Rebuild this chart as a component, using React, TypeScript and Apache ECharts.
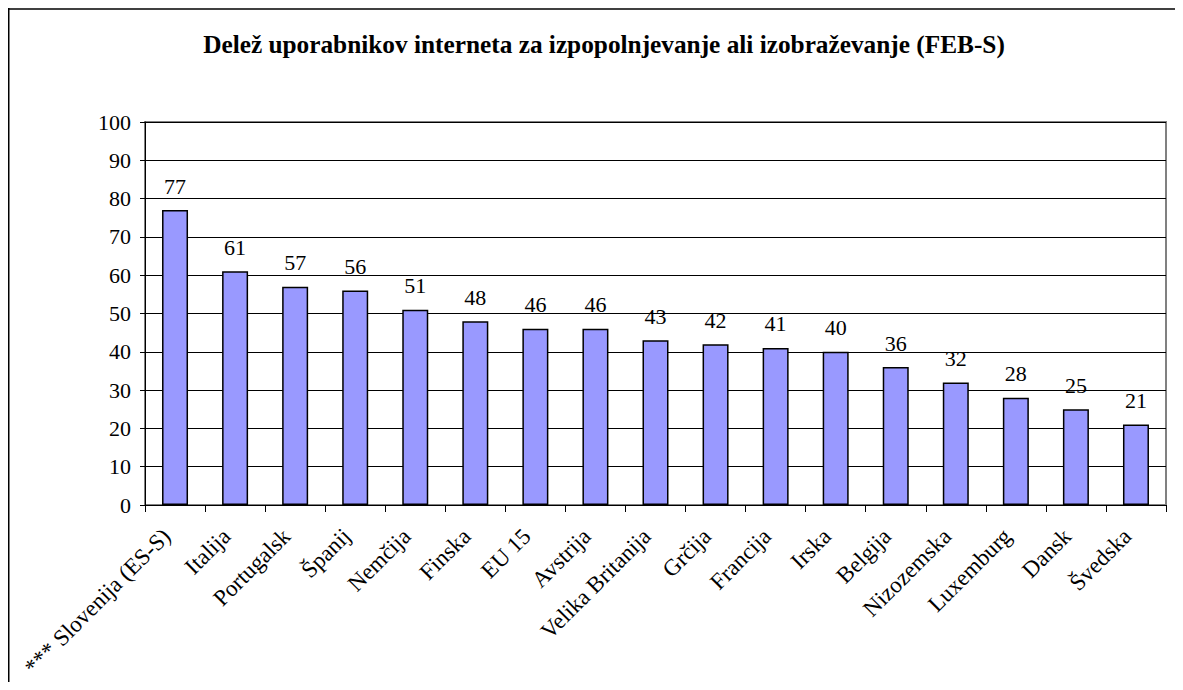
import React, { useEffect, useRef } from "react";
import * as echarts from "echarts";

const TITLE = "Delež uporabnikov interneta za izpopolnjevanje ali izobraževanje (FEB-S)";
const categories = [
  "*** Slovenija (ES-S)",
  "Italija",
  "Portugalsk",
  "Španij",
  "Nemčija",
  "Finska",
  "EU 15",
  "Avstrija",
  "Velika Britanija",
  "Grčija",
  "Francija",
  "Irska",
  "Belgija",
  "Nizozemska",
  "Luxemburg",
  "Dansk",
  "Švedska",
];
const values = [77, 61, 57, 56, 51, 48, 46, 46, 43, 42, 41, 40, 36, 32, 28, 25, 21];
const yTicks = [0, 10, 20, 30, 40, 50, 60, 70, 80, 90, 100];

const FONT = "'Times New Roman', 'Liberation Serif', serif";

export default function App() {
  const ref = useRef<HTMLDivElement>(null);
  useEffect(() => {
    if (!ref.current) return;
    const chart = echarts.init(ref.current, undefined, { renderer: "svg" });
    chart.setOption({
      animation: false,
      backgroundColor: "#ffffff",
      title: {
        text: TITLE,
        left: 591,
        textAlign: "center",
        top: 18,
        textStyle: { fontFamily: FONT, fontSize: 25.3, fontWeight: "bold", color: "#000" },
      },
      graphic: [
        {
          type: "line",
          shape: { x1: 0, y1: 1, x2: 1300, y2: 1 },
          style: { stroke: "#000", lineWidth: 1.5 },
          silent: true,
        },
        {
          type: "line",
          shape: { x1: 0.75, y1: 0, x2: 0.75, y2: 800 },
          style: { stroke: "#000", lineWidth: 1.5 },
          silent: true,
        },
      ],
      grid: {
        left: 137,
        top: 114,
        right: 9,
        bottom: 177,
        show: true,
        borderColor: "#808080",
        borderWidth: 2,
        backgroundColor: "#ffffff",
      },
      xAxis: {
        type: "category",
        data: categories,
        boundaryGap: true,
        axisLine: { show: true, lineStyle: { color: "#000", width: 1 } },
        axisTick: { show: true, length: 7, alignWithLabel: false, lineStyle: { color: "#000" } },
        axisLabel: {
          interval: 0,
          rotate: 45,
          margin: 19,
          padding: [0, 12, 0, 0],
          fontFamily: FONT,
          fontSize: 23,
          color: "#000",
        },
      },
      yAxis: {
        type: "value",
        min: 0,
        max: 100,
        interval: 10,
        axisLine: { show: true, lineStyle: { color: "#000", width: 1 } },
        axisTick: { show: true, length: 5, lineStyle: { color: "#000" } },
        axisLabel: {
          margin: 14,
          fontFamily: FONT,
          fontSize: 22,
          color: "#000",
          formatter: (v: number) => (yTicks.includes(v) ? String(v) : ""),
        },
        splitLine: { show: true, lineStyle: { color: "#000", width: 1 } },
      },
      series: [
        {
          type: "bar",
          data: values,
          barWidth: 26,
          itemStyle: { color: "#9999FF", borderColor: "#000", borderWidth: 1.5 },
          label: {
            show: true,
            position: "top",
            distance: 13,
            fontFamily: FONT,
            fontSize: 22,
            color: "#000",
          },
        },
      ],
    });
    return () => chart.dispose();
  }, []);
  return <div ref={ref} style={{ width: 1167, height: 674 }} />;
}
